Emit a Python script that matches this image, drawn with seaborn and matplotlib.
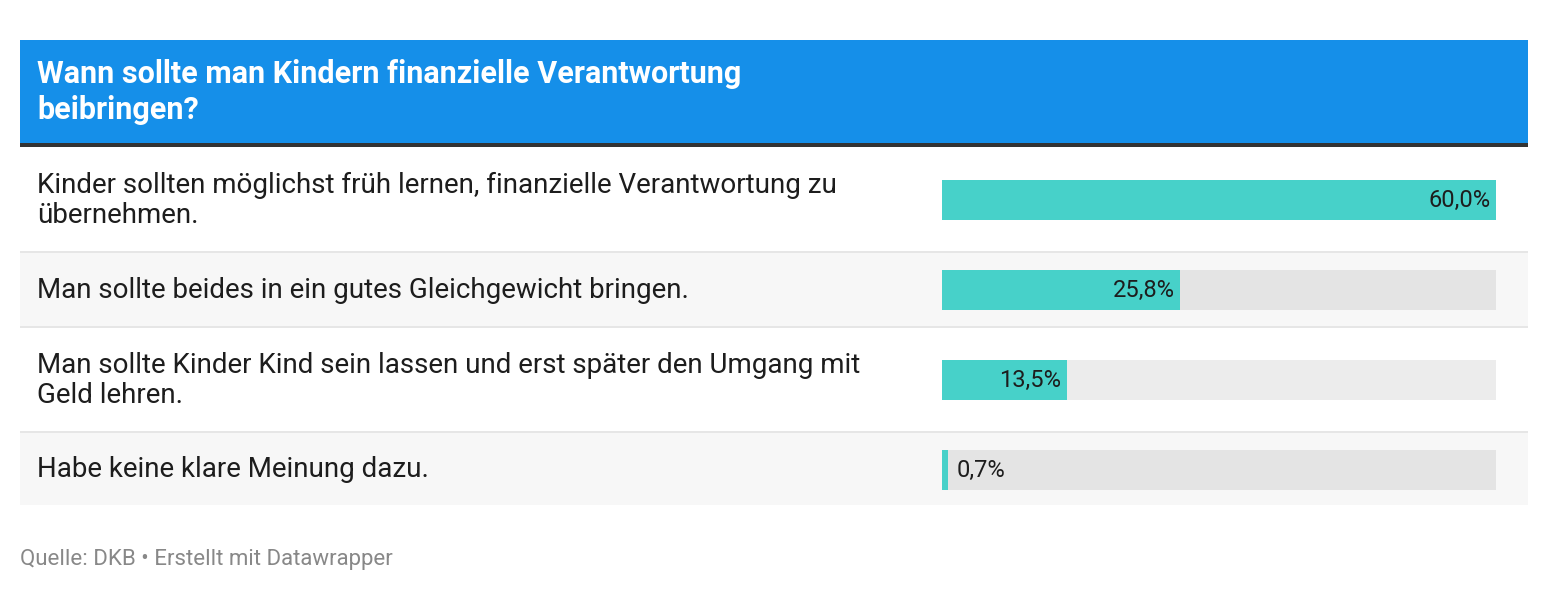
import seaborn as sns
import matplotlib.pyplot as plt
import matplotlib.patches as mpatches
import pandas as pd

# data
title = "Wann sollte man Kindern finanzielle Verantwortung\nbeibringen?"
answers = [
    "Kinder sollten möglichst früh lernen, finanzielle Verantwortung zu\nübernehmen.",
    "Man sollte beides in ein gutes Gleichgewicht bringen.",
    "Man sollte Kinder Kind sein lassen und erst später den Umgang mit\nGeld lehren.",
    "Habe keine klare Meinung dazu.",
]
shares = [60.0, 25.8, 13.5, 0.7]
source = "Quelle: DKB • Erstellt mit Datawrapper"

df = pd.DataFrame({"answer": answers, "share": shares})
df["track"] = df["share"].max()

sns.set_theme(style="white")
plt.rcParams["font.family"] = ["Roboto", "DejaVu Sans"]

W, H = 1548, 592
fig = plt.figure(figsize=(W / 100, H / 100), dpi=100)
fig.patch.set_facecolor("white")

# background layer in pixel coords
bg = fig.add_axes([0, 0, 1, 1])
bg.set_xlim(0, W)
bg.set_ylim(H, 0)
bg.axis("off")

bg.add_patch(mpatches.Rectangle((20, 40), 1508, 103, color="#158fe9", lw=0))
bg.add_patch(mpatches.Rectangle((20, 143), 1508, 4, color="#333333", lw=0))
bg.text(37, 92, title, color="white", fontsize=22, fontweight="bold",
        va="center", ha="left", linespacing=1.22)

rows = [(147, 252, "white"), (252, 327, "#f7f7f7"), (327, 432, "white"), (432, 505, "#f7f7f7")]
for i, (top, bot, col) in enumerate(rows):
    bg.add_patch(mpatches.Rectangle((20, top), 1508, bot - top, color=col, lw=0))
    if i > 0:
        bg.add_patch(mpatches.Rectangle((20, top - 1), 1508, 2, color="#e6e6e6", lw=0))
    bg.text(37, (top + bot) / 2 + 1, df["answer"][i], fontsize=20, color="#1d1d1d",
            va="center", ha="left", linespacing=1.15)

bg.text(20, 559, source, fontsize=16, color="#888888", va="center", ha="left")

# bar area
ax = fig.add_axes([942 / W, (H - 515) / H, 554 / W, 360 / H])
ax.patch.set_alpha(0)
sns.barplot(data=df, x="track", y="answer", color="black", alpha=0.075,
            width=0.444, linewidth=0, ax=ax, orient="h")
n_track = len(ax.patches)
sns.barplot(data=df, x="share", y="answer", color="#47d1c9", saturation=1,
            width=0.444, linewidth=0, ax=ax, orient="h")
ax.set_xlim(0, df["share"].max())
ax.set_ylim(len(df) - 0.5, -0.5)
ax.axis("off")

for p, v in zip(ax.patches[n_track:], df["share"]):
    lab = f"{v:.1f}".replace(".", ",") + "%"
    y = p.get_y() + p.get_height() / 2
    end = p.get_x() + p.get_width()
    if v > 5:
        ax.annotate(lab, (end, y), xytext=(-4, 0), textcoords="offset points",
                    ha="right", va="center", fontsize=17, color="#1d1d1d")
    else:
        ax.annotate(lab, (end, y), xytext=(6, 0), textcoords="offset points",
                    ha="left", va="center", fontsize=17, color="#1d1d1d")

fig.savefig("out.png", dpi=100)
